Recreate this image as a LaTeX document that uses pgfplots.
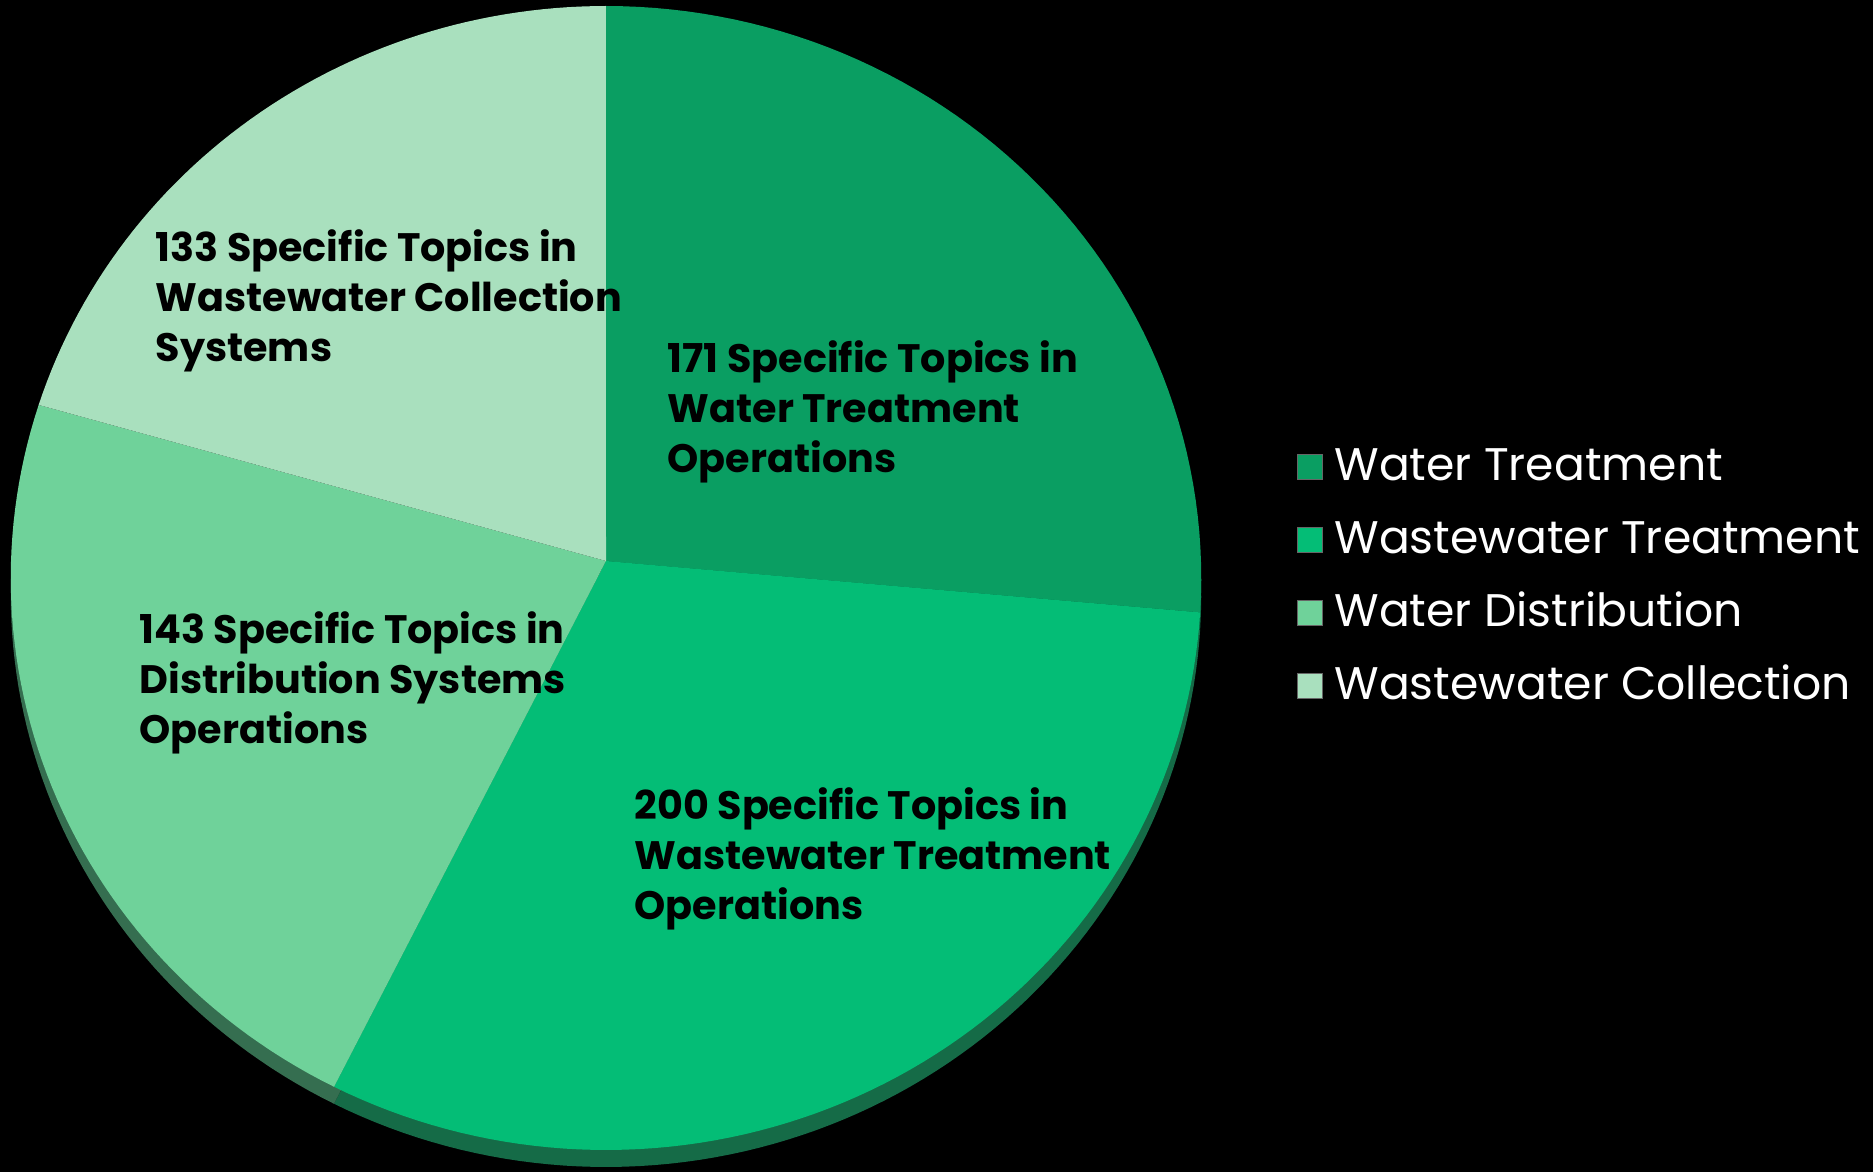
\documentclass[border=0pt]{standalone}
\usepackage{pgfplots}
\pgfplotsset{compat=1.18}
\usepackage{fontspec}
\setmainfont{Poppins}
\definecolor{cWT}{HTML}{0A9E62}
\definecolor{cWWT}{HTML}{04BD76}
\definecolor{cWD}{HTML}{6FD29A}
\definecolor{cWC}{HTML}{A9E0BE}
\definecolor{eWT}{HTML}{0A6A44}
\definecolor{eWWT}{HTML}{156B47}
\definecolor{eWD}{HTML}{356E50}
% values
\def\vWT{171}\def\vWWT{200}\def\vWD{143}\def\vWC{133}
\begin{document}
\begin{tikzpicture}
\pgfmathsetmacro{\tot}{\vWT+\vWWT+\vWD+\vWC}
\pgfmathsetmacro{\aA}{90}
\pgfmathsetmacro{\aB}{\aA-360*(\vWT/\tot)}
\pgfmathsetmacro{\aC}{\aB-360*(\vWWT/\tot)}
\pgfmathsetmacro{\aD}{\aC-360*(\vWD/\tot)}
\pgfmathsetmacro{\aE}{\aD-360*(\vWC/\tot)}
\begin{axis}[name=ax,width=187.3mm,height=117.2mm,scale only axis,hide axis,
  xmin=0,xmax=1873,ymin=0,ymax=1172,y dir=reverse,clip=false,
  legend style={at={(axis cs:1296,443)},anchor=north west,draw=none,fill=none,inner sep=0pt,
    text=white,font=\fontsize{13}{16}\selectfont,row sep=2.6mm,
    nodes={inner sep=0pt,text height=3.7mm,text depth=1mm}},
  legend cell align=left,
  /tikz/every odd column/.append style={column sep=1.2mm},
  legend image code/.code={\fill[#1,draw=white!40!black,line width=0.2pt] (0mm,-1.25mm) rectangle (2.5mm,1.25mm);},
]
\addplot[fill=black,draw=none,forget plot] coordinates {(0,0) (1873,0) (1873,1172) (0,1172)} -- cycle;
% side (thickness) of the pie, perspective-tilted disc
\addplot[fill=eWT,draw=none,forget plot,domain=\aB:\aA,samples=60,variable=\t] ({606+595*cos(t)/(1+0.0297*sin(t))},{578-571.5*sin(t)/(1+0.0297*sin(t))}) -- (606,578) -- cycle;
\addplot[fill=eWWT,draw=none,forget plot,domain=\aC:\aB,samples=80,variable=\t] ({606+595*cos(t)/(1+0.0297*sin(t))},{578-571.5*sin(t)/(1+0.0297*sin(t))}) -- (606,578) -- cycle;
\addplot[fill=eWD,draw=none,forget plot,domain=\aD:\aC,samples=60,variable=\t] ({606+595*cos(t)/(1+0.0297*sin(t))},{578-571.5*sin(t)/(1+0.0297*sin(t))}) -- (606,578) -- cycle;
% top faces
\addplot[fill=cWT,draw=none,domain=\aB:\aA,samples=60,variable=\t] ({606+595*cos(t)/(1+0.0297*sin(t))},{561-571.5*sin(t)/(1+0.0297*sin(t))}) -- (606,561) -- cycle;
\addlegendentry{Water Treatment}
\addplot[fill=cWWT,draw=none,domain=\aC:\aB,samples=80,variable=\t] ({606+595*cos(t)/(1+0.0297*sin(t))},{561-571.5*sin(t)/(1+0.0297*sin(t))}) -- (606,561) -- cycle;
\addlegendentry{Wastewater Treatment}
\addplot[fill=cWD,draw=none,domain=\aD:\aC,samples=60,variable=\t] ({606+595*cos(t)/(1+0.0297*sin(t))},{561-571.5*sin(t)/(1+0.0297*sin(t))}) -- (606,561) -- cycle;
\addlegendentry{Water Distribution}
\addplot[fill=cWC,draw=none,domain=\aE:\aD,samples=60,variable=\t] ({606+595*cos(t)/(1+0.0297*sin(t))},{561-571.5*sin(t)/(1+0.0297*sin(t))}) -- (606,561) -- cycle;
\addlegendentry{Wastewater Collection}
% labels (anchored at the baseline of their last line)
\tikzset{lbl/.style={anchor=base west,align=left,inner sep=0pt,text=black,font=\bfseries\fontsize{11.3}{14.2}\selectfont}}
\node[lbl] at (axis cs:155,361) {133 Specific Topics in\\Wastewater Collection\\Systems};
\node[lbl] at (axis cs:667,472) {171 Specific Topics in\\Water Treatment\\Operations};
\node[lbl] at (axis cs:139,743) {143 Specific Topics in\\Distribution Systems\\Operations};
\node[lbl] at (axis cs:634,919) {200 Specific Topics in\\Wastewater Treatment\\Operations};
\end{axis}
\pgfresetboundingbox
\path[use as bounding box] (ax.south west) rectangle (ax.north east);
\end{tikzpicture}
\end{document}
